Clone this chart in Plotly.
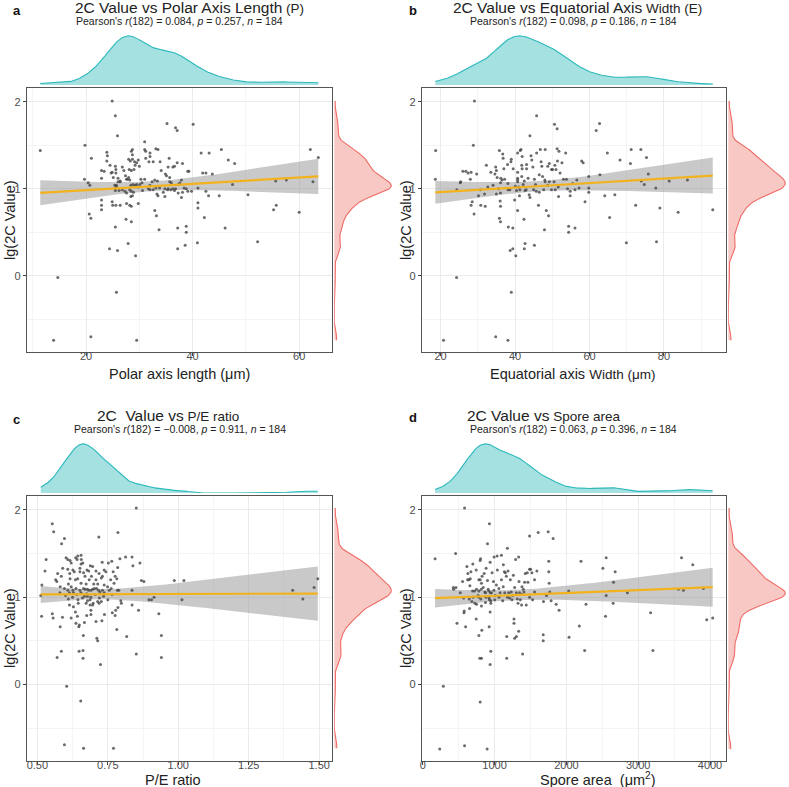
import numpy as np
import plotly.graph_objects as go

W, H = 789, 787
FONT = "Liberation Sans, Arial, sans-serif"

# ---------------- data ----------------
polar_pts = [
    (11.4,1.44),(14.7,-0.02),(13.9,-0.74),(20.9,-0.70),(29.5,-0.74),(25.7,-0.19),(24.9,2.01),(25.5,1.84),
    (25.9,1.61),(35.2,1.75),(36.8,1.70),(37.1,1.67),(40.1,1.74),(19.8,1.50),(21.0,1.35),(19.7,1.11),
    (20.4,1.07),(20.7,1.04),(20.6,0.71),(20.9,0.66),(24.4,0.31),(25.9,0.29),(27.9,0.37),(29.3,0.23),
    (25.5,0.56),(27.5,0.65),(28.5,0.62),(33.7,0.53),(32.9,0.75),(33.2,0.69),(37.2,0.55),(38.8,0.57),
    (38.8,0.50),(37.2,0.31),(38.6,0.35),(40.9,0.38),(41.0,0.78),(41.0,0.84),(42.2,0.67),(46.1,0.55),
    (52.2,0.39),(50.4,0.93),(45.0,0.92),(43.0,0.92),(42.5,0.97),(41.6,1.41),(43.1,1.41),(43.7,1.17),
    (45.4,1.45),(46.7,1.33),(47.9,1.29),(47.5,1.05),(55.2,0.76),(55.7,0.81),(55.6,1.09),(57.6,1.10),
    (60.0,0.73),(62.1,1.45),(63.6,1.36),(62.6,1.08),(41.9,1.18),(42.5,1.18),(41.0,1.01),
    (22.9,1.21),(23.4,1.20),(22.9,1.12),(23.9,1.42),(24.0,1.38),(23.9,1.32),(24.5,1.27),(24.9,1.19),
    (24.7,1.18),(25.1,1.13),(25.5,1.26),(25.6,1.22),(25.6,1.18),(26.0,1.12),(26.4,1.08),(25.4,1.04),
    (25.5,1.00),(25.5,0.98),(25.7,1.04),(26.0,1.08),(26.4,1.09),(26.8,1.25),(27.1,1.21),(27.4,1.15),
    (27.6,1.11),(27.8,1.11),(28.0,1.13),(28.2,1.10),(28.4,1.04),(28.0,1.34),(28.3,1.32),(28.5,1.43),
    (28.7,1.45),(28.7,1.39),(28.7,1.34),(29.1,1.31),(29.2,1.27),(29.5,1.30),(29.8,1.33),(30.0,1.26),
    (28.1,1.22),(28.5,1.21),(29.0,1.22),(28.2,0.99),(28.5,0.97),(28.9,0.96),(28.7,0.92),(28.4,0.91),
    (27.6,0.95),(27.3,0.97),(26.8,0.99),(26.2,0.98),(25.7,1.02),(22.9,0.87),(22.9,0.81),(22.9,0.76),
    (24.9,0.85),(25.0,0.81),(25.6,0.81),(26.4,0.81),(27.6,0.83),(28.2,0.81),(28.5,0.80),(29.8,0.83),
    (28.8,1.05),(29.2,1.04),(29.5,1.05),(29.8,1.02),(31.0,1.54),(31.0,1.45),(31.2,1.43),(32.0,1.41),
    (32.0,1.37),(31.2,1.35),(31.8,1.31),(32.6,1.31),(33.1,1.46),(33.5,1.45),(33.9,1.31),(34.1,1.21),
    (34.9,1.17),(35.1,1.15),(35.7,1.13),(35.4,1.25),(35.6,1.35),(36.3,1.25),(36.6,1.26),(37.1,1.30),
    (38.1,1.29),(39.1,1.20),(39.3,1.20),(37.9,1.10),(37.6,1.07),(37.3,1.05),(36.8,1.00),(36.3,1.00),
    (36.0,1.07),(35.7,1.08),(35.4,1.00),(34.8,1.00),(34.5,0.96),(33.8,1.01),(33.4,1.09),(32.9,1.10),
    (32.4,1.08),(32.0,1.04),(31.7,1.00),(30.6,0.98),(30.5,1.07),(30.3,1.11),(31.0,1.11),(32.0,0.99),
    (32.6,0.99),(33.1,1.01),(33.3,0.94),(33.5,0.92),(34.8,0.91),(35.3,0.99),(35.9,0.99),(36.6,0.98),
    (37.3,0.95),(37.9,0.90),(38.1,0.96),(38.8,1.00),(39.1,0.97),(39.8,0.97),(38.4,1.01),(30.1,1.05),
]

equatorial_pts = [
    (18.7,1.44),(18.6,1.11),(24.3,-0.02),(20.8,-0.74),(34.8,-0.70),(38.1,-0.74),(39.0,-0.19),(29.1,2.01),
    (28.8,1.50),(45.8,1.84),(50.6,1.74),(51.3,1.69),(61.8,1.67),(62.7,1.75),(44.0,1.61),(26.0,1.20),
    (25.4,1.08),(25.3,1.07),(28.0,1.11),(28.2,1.19),(29.7,1.17),(28.2,0.81),(28.5,0.85),(29.0,0.71),
    (30.8,0.81),(32.0,0.80),(24.4,0.99),(30.7,0.99),(35.8,0.66),(36.1,0.62),(38.2,0.56),(39.4,0.55),
    (38.7,0.29),(39.4,0.31),(40.2,0.23),(42.5,0.31),(42.7,0.37),(45.2,0.35),(42.4,0.65),(40.7,0.75),
    (47.9,0.53),(48.4,0.75),(49.0,0.69),(54.4,0.57),(54.4,0.50),(56.1,0.55),(58.8,0.85),(64.1,0.92),
    (65.4,0.67),(66.8,0.93),(59.8,1.14),(59.8,1.01),(59.8,0.96),(62.8,1.16),(64.8,1.41),(68.2,1.33),
    (71.2,1.45),(71.0,1.29),(73.8,1.45),(75.3,1.36),(73.9,1.09),(74.7,1.05),(75.8,1.17),(77.8,1.01),
    (72.4,0.81),(69.9,0.38),(78.0,0.39),(78.9,0.78),(81.4,1.09),(83.8,0.73),(86.3,1.10),(93.1,0.76),
    (53.8,1.11),(53.6,1.41),(57.9,1.32),(58.3,1.30),(51.3,1.46),(51.8,1.43),(48.1,1.45),(46.5,1.16),
    (26.8,1.20),(27.4,1.18),(32.3,1.27),(33.5,1.19),(34.6,1.17),(35.0,1.21),(35.8,1.44),(36.7,1.40),
    (36.8,1.35),(37.0,1.23),(38.0,1.28),(39.0,1.34),(38.9,1.31),(36.2,1.12),(36.1,1.07),(35.2,1.13),
    (36.1,0.95),(36.0,0.86),(36.1,0.80),(35.0,0.94),(38.1,1.06),(39.9,0.87),(40.7,1.41),(41.4,1.44),
    (41.6,1.45),(41.9,1.37),(40.7,1.19),(40.7,1.12),(40.7,1.10),(40.7,1.08),(41.0,1.02),(41.3,0.99),
    (41.2,0.92),(40.1,1.03),(40.4,0.98),(41.8,1.27),(41.9,1.23),(41.8,1.14),(42.5,1.09),(42.2,1.05),
    (43.0,0.99),(42.7,0.98),(43.1,1.23),(43.1,1.28),(43.5,1.12),(43.8,0.93),(44.0,0.90),(44.3,1.38),
    (44.5,1.33),(44.8,1.25),(45.2,1.11),(45.5,1.05),(45.0,0.99),(45.7,0.97),(45.8,1.41),(46.8,1.45),
    (47.0,1.31),(47.2,1.26),(47.4,1.14),(48.0,1.10),(46.3,0.81),(46.5,0.96),(47.7,0.99),(48.8,1.26),
    (49.2,1.29),(49.8,1.22),(50.1,1.22),(50.7,1.27),(51.0,1.22),(51.4,1.32),(50.5,1.08),(50.8,0.99),
    (51.6,1.02),(51.7,0.91),(49.2,1.08),(48.8,1.04),(52.6,1.30),(53.0,1.11),(54.1,1.00),(54.8,0.97),
    (54.8,0.92),(55.5,1.06),(56.1,0.99),(57.2,1.01),(56.6,1.10),(52.1,1.18),(49.8,0.99),(48.1,1.08),
    (38.1,0.99),(38.6,0.99),(37.2,1.11),(39.5,1.23),(31.8,0.94),(32.7,1.02),(34.1,1.04),(35.6,1.00),
    (36.5,1.10),(30.2,0.92),(34.8,1.25),
]

pe_ratio_pts = [
    (0.851,2.02),(0.553,1.84),(0.558,1.75),(0.596,1.67),(0.586,1.61),(0.531,1.43),(0.527,1.30),(0.516,1.14),
    (0.512,1.02),(0.515,0.78),(0.553,0.81),(0.556,0.76),(0.570,0.31),(0.585,0.38),(0.581,0.66),(0.589,0.77),
    (0.604,-0.02),(0.654,-0.19),(0.596,-0.69),(0.664,-0.73),(0.770,-0.73),(0.648,0.38),(0.662,0.39),(0.662,0.30),
    (0.724,0.23),(0.711,0.53),(0.714,0.50),(0.663,0.56),(0.782,0.63),(0.817,0.55),(0.851,0.35),(0.940,0.56),
    (0.940,0.31),(0.931,0.81),(0.859,0.85),(0.718,1.69),(0.786,1.74),(0.793,1.44),(0.813,1.46),(0.836,1.46),
    (0.839,1.36),(0.864,1.39),(0.869,1.19),(0.878,1.18),(0.836,1.08),(0.836,0.91),(0.896,0.97),(0.905,0.97),
    (0.914,1.00),(0.986,1.19),(1.020,1.19),(1.013,0.97),(1.406,1.08),(1.442,0.98),(1.482,1.11),(1.495,1.21),
    (0.602,1.45),(0.608,1.43),(0.616,1.42),(0.636,1.45),(0.641,1.43),(0.643,1.47),(0.655,1.48),(0.656,1.43),
    (0.661,1.39),(0.620,1.39),(0.631,1.29),(0.626,1.31),(0.608,1.32),(0.590,1.33),(0.585,1.24),(0.572,1.27),
    (0.565,1.20),(0.569,1.18),(0.581,1.12),(0.596,1.10),(0.608,1.08),(0.614,1.05),(0.626,1.08),(0.628,1.05),
    (0.637,1.10),(0.644,0.97),(0.651,1.08),(0.655,1.05),(0.664,1.10),(0.670,1.09),(0.667,1.01),(0.673,0.93),
    (0.678,1.01),(0.682,1.08),(0.690,1.08),(0.696,1.09),(0.702,1.10),(0.710,1.10),(0.717,1.08),(0.722,1.06),
    (0.731,1.08),(0.737,1.05),(0.727,0.95),(0.719,0.93),(0.714,0.95),(0.696,0.91),(0.687,0.97),(0.678,0.96),
    (0.676,1.31),(0.682,1.30),(0.688,1.36),(0.696,1.35),(0.708,1.30),(0.719,1.27),(0.731,1.24),(0.737,1.31),
    (0.743,1.29),(0.752,1.39),(0.764,1.41),(0.769,1.29),(0.776,1.24),(0.782,1.21),(0.784,1.08),(0.786,0.88),
    (0.778,0.85),(0.776,0.79),(0.766,0.82),(0.738,0.80),(0.729,0.73),(0.708,0.72),(0.690,0.85),(0.687,0.91),
    (0.675,0.79),(0.667,0.71),(0.649,0.68),(0.647,0.66),(0.637,0.70),(0.620,0.76),(0.614,0.91),(0.628,0.89),
    (0.635,0.83),(0.642,0.78),(0.698,0.93),(0.678,1.09),(0.673,1.15),(0.655,1.16),(0.669,1.24),(0.664,1.28),
    (0.651,1.29),(0.643,1.21),(0.635,1.20),(0.616,1.21),(0.610,1.15),(0.620,1.12),(0.651,1.33),(0.684,1.20),
    (0.692,1.24),(0.708,1.20),(0.714,1.15),(0.727,1.22),(0.737,1.14),(0.749,1.12),(0.755,1.08),(0.762,1.10),
    (0.772,1.16),(0.785,1.34),(0.789,1.08),(0.796,0.96),(0.798,0.93),(0.610,0.98),(0.625,1.00),(0.640,1.03),
    (0.660,0.99),(0.675,1.04),(0.690,1.00),(0.705,1.03),(0.720,0.99),(0.735,1.01),(0.750,0.97),(0.765,1.03),
    (0.600,1.02),(0.645,0.93),(0.700,1.15),(0.760,1.20),(0.615,1.27),(0.655,1.38),(0.730,1.40),(0.580,1.05),
    (0.690,0.80),
]

area_pts = [
    (582,2.02),(928,1.84),(901,1.61),(171,1.44),(457,1.50),(1487,1.70),(1607,1.74),(1746,1.75),
    (1815,1.67),(286,-0.02),(236,-0.74),(582,-0.70),(896,-0.74),(799,-0.20),(794,0.30),(817,0.30),
    (938,0.23),(947,0.38),(1169,0.30),(1390,0.35),(1303,0.55),(1335,0.61),(1169,0.55),(1279,0.53),
    (781,0.56),(822,0.62),(924,0.66),(596,0.66),(476,0.70),(744,0.75),(1270,0.75),(1270,0.70),
    (1677,0.57),(1677,0.50),(1898,0.85),(2037,0.54),(2180,0.67),(2254,0.39),(2203,1.41),(2273,0.92),
    (2545,0.78),(2508,1.33),(2554,1.45),(2554,1.02),(2656,1.17),(2679,1.29),(2651,0.93),(2850,1.05),
    (3173,0.82),(3205,0.39),(3603,1.45),(3760,1.37),(3561,1.09),(3630,1.08),(3908,1.10),(3954,0.74),
    (4037,0.76),(2032,1.07),(1755,1.41),(1755,1.29),(1760,1.16),(1769,1.06),(1787,0.96),(1681,0.95),
    (1857,0.92),(1723,1.02),(1557,1.20),(1520,1.28),(1487,1.32),
    (425,1.11),(430,1.09),(462,1.11),(522,1.05),(554,1.18),(577,0.84),(573,0.82),(614,1.35),
    (628,1.27),(642,1.20),(661,1.21),(647,0.98),(651,0.87),(697,1.38),(721,1.07),(744,1.31),
    (771,1.02),(804,1.44),(813,1.09),(799,1.20),(817,1.16),(826,1.24),(841,1.11),(855,1.27),
    (864,1.06),(873,0.94),(882,1.33),(901,1.19),(910,1.09),(919,1.07),(924,0.99),(928,0.97),
    (938,1.40),(938,0.83),(947,0.93),(947,0.96),(956,1.05),(965,1.28),(993,1.46),(1002,0.97),
    (1035,1.47),(1039,1.31),(1062,1.00),(1076,1.05),(1095,1.48),(1095,1.20),(1113,0.96),(1122,1.37),
    (1136,1.29),(1150,1.28),(1164,1.24),(1178,1.56),(1187,1.30),(1196,1.05),(1219,1.20),(1233,1.06),
    (1242,0.97),(1261,1.25),(1279,1.11),(1293,1.43),(1303,1.05),(1316,0.98),(1326,0.93),(1335,1.46),
    (1340,1.18),(1349,1.05),(1358,0.97),(1376,0.91),(1381,1.12),(1400,1.09),(1409,1.06),(1418,1.17),
    (1427,1.27),(1441,0.91),(1455,1.28),(1464,1.17),(1487,1.00),(1501,1.32),(1529,0.97),(1557,1.06),
    (1589,1.30),(748,0.92),(781,1.00),(808,0.98),(984,1.18),(1025,1.14),(1141,1.05),(693,1.07),
    (817,0.90),(942,1.05),(781,1.07),(873,1.05),(568,0.99),(656,1.13),(748,1.09),(670,1.29),
    (624,1.20),(684,0.95),(781,1.20),(799,1.42),(725,0.93),(1010,1.02),(1060,1.10),(1120,1.12),
    (1180,1.00),(1250,1.02),(880,1.00),(990,1.08),(1210,0.99),(1380,1.03),(700,1.00),
]

titles_main = ["2C Value vs Polar Axis Length", "2C Value vs Equatorial Axis", "2C  Value vs", "2C Value vs"]
titles_tail = [" (P)", " Width (E)", " P/E ratio", " Spore area"]
pearson_r = ["0.084", "0.098", "\u22120.008", "0.063"]
pearson_p = ["0.257", "0.186", "0.911", "0.396"]
n_obs = 184
x_titles = ["Polar axis length (\u03bcm)",
            "Equatorial axis <span style='font-size:13.5px'>Width (\u03bcm)</span>",
            "P/E ratio",
            "Spore area  (\u03bcm<sup>2</sup>)"]
panel_labels = ["a", "b", "c", "d"]
x_ranges = [[8.9, 66.2], [15.0, 96.7], [0.463, 1.546], [-12, 4225]]
x_dticks = [20, 20, 0.25, 1000]
x_minor = [10, 10, 0.125, 500]
x_formats = ["d", "d", ".2f", "d"]
y_range = [-0.876, 2.158]

# ---------------- helpers ----------------
def fx(px):
    return px / W

def fy(py):
    return 1 - py / H

def kde(v):
    v = np.asarray(v, float)
    n = len(v)
    sd = v.std(ddof=1)
    q75, q25 = np.percentile(v, [75, 25])
    bw = 0.9 * min(sd, (q75 - q25) / 1.34) * n ** -0.2
    g = np.linspace(v.min(), v.max(), 400)
    d = np.exp(-0.5 * ((g[:, None] - v[None, :]) / bw) ** 2).sum(1) / (n * bw * np.sqrt(2 * np.pi))
    return g, d

def lm_band(x, y):
    x = np.asarray(x, float); y = np.asarray(y, float)
    n = len(x)
    b, a = np.polyfit(x, y, 1)
    g = np.linspace(x.min(), x.max(), 80)
    fit = a + b * g
    res = y - (a + b * x)
    s = np.sqrt((res ** 2).sum() / (n - 2))
    se = s * np.sqrt(1 / n + (g - x.mean()) ** 2 / ((x - x.mean()) ** 2).sum())
    t = 1.973
    return g, fit, fit - t * se, fit + t * se

# pixel boxes of the main panels: (left, right, top, bottom)
boxes = [(25, 331, 88, 352), (421, 726, 88, 352), (25, 331, 496, 761), (421, 726, 496, 761)]
all_pts = [polar_pts, equatorial_pts, pe_ratio_pts, area_pts]

fig = go.Figure()
layout = dict(
    width=W, height=H, margin=dict(l=0, r=0, t=0, b=0),
    paper_bgcolor="white", plot_bgcolor="rgba(0,0,0,0)",
    showlegend=False, font=dict(family=FONT, color="#222"),
)
annotations = []
TICKFONT = dict(size=11, color="#4d4d4d", family=FONT)

for i in range(4):
    L, R, T, B = boxes[i]
    xs = [p[0] for p in all_pts[i]]
    ys = [p[1] for p in all_pts[i]]
    k = 4 * i
    xm, ym = f"x{k+1}", f"y{k+1}"
    xt, yt = f"x{k+2}", f"y{k+2}"
    xr, yr = f"x{k+3}", f"y{k+3}"
    xl = f"x{k+4}"
    kx = lambda j: "xaxis" if j == 1 else f"xaxis{j}"
    ky = lambda j: "yaxis" if j == 1 else f"yaxis{j}"

    # main axes (tick marks and grid; x labels are drawn by a companion axis just below)
    layout[kx(k+1)] = dict(
        domain=[fx(L), fx(R)], range=x_ranges[i], anchor=ym,
        tickmode="linear", dtick=x_dticks[i], tick0=0, showticklabels=False,
        showgrid=True, gridcolor="#ebebeb", gridwidth=1, zeroline=False,
        showline=True, linecolor="#555555", linewidth=1.3, mirror=True,
        ticks="outside", ticklen=3, tickcolor="#444", tickwidth=1,
        minor=dict(dtick=x_minor[i], tick0=0, showgrid=True, gridcolor="#f4f4f4", gridwidth=0.7, ticklen=0),
    )
    layout[kx(k+4)] = dict(
        domain=[fx(L), fx(R)], range=x_ranges[i], anchor="free", overlaying=xm,
        position=fy(B - 4), side="bottom",
        tickmode="linear", dtick=x_dticks[i], tick0=0, tickformat=x_formats[i],
        showgrid=False, zeroline=False, showline=False, ticks="",
        tickfont=TICKFONT,
    )
    layout[ky(k+1)] = dict(
        domain=[fy(B), fy(T)], range=y_range, anchor=xm,
        tickmode="linear", dtick=1, tick0=0,
        showgrid=True, gridcolor="#ebebeb", gridwidth=1, zeroline=False,
        showline=True, linecolor="#555555", linewidth=1.3, mirror=True,
        ticks="outside", ticklen=3, tickcolor="#444", tickwidth=1,
        tickfont=TICKFONT,
        minor=dict(dtick=0.5, tick0=0, showgrid=True, gridcolor="#f4f4f4", gridwidth=0.7, ticklen=0),
    )

    # top marginal density
    gx, dx = kde(xs)
    layout[kx(k+2)] = dict(domain=[fx(L), fx(R)], range=x_ranges[i], anchor=yt, visible=False)
    layout[ky(k+2)] = dict(domain=[fy(T - 3), fy(T - 58)], range=[0, dx.max() * 1.12], anchor=xt, visible=False)
    fig.add_trace(go.Scatter(x=gx, y=dx, xaxis=xt, yaxis=yt, mode="lines", fill="tozeroy",
                             fillcolor="#a6e1e2", line=dict(color="#2cb8bb", width=1.1), hoverinfo="skip"))

    # right marginal density
    gy, dy = kde(ys)
    layout[kx(k+3)] = dict(domain=[fx(R + 2), fx(R + 61)], range=[0, dy.max() * 1.03], anchor=yr, visible=False)
    layout[ky(k+3)] = dict(domain=[fy(B), fy(T)], range=y_range, anchor=xr, visible=False)
    fig.add_trace(go.Scatter(x=dy, y=gy, xaxis=xr, yaxis=yr, mode="lines", fill="tozerox",
                             fillcolor="#f8c8c5", line=dict(color="#ee6b65", width=1.1), hoverinfo="skip"))

    # regression band, points, line
    g, fit, lo, hi = lm_band(xs, ys)
    fig.add_trace(go.Scatter(x=np.concatenate([g, g[::-1]]), y=np.concatenate([lo, hi[::-1]]),
                             xaxis=xm, yaxis=ym, mode="lines", fill="toself",
                             fillcolor="rgba(150,148,148,0.5)", line=dict(width=0), hoverinfo="skip"))
    fig.add_trace(go.Scatter(x=xs, y=ys, xaxis=xm, yaxis=ym, mode="markers",
                             marker=dict(size=3.0, color="rgba(70,70,70,0.8)", line=dict(width=0))))
    fig.add_trace(go.Scatter(x=g, y=fit, xaxis=xm, yaxis=ym, mode="lines",
                             line=dict(color="#f2b21c", width=2.2), hoverinfo="skip"))
    # invisible companion trace so the tick-label axis is rendered
    fig.add_trace(go.Scatter(x=xs, y=ys, xaxis=xl, yaxis=ym, mode="markers",
                             marker=dict(size=1, opacity=0), hoverinfo="skip"))

# text placement (pixels)
title_pos = [(188, 8), (577, 8), (166, 415), (543, 415)]
sub_pos = [(178, 21), (573, 21), (178, 429), (573, 429)]
label_pos = [(15, 10), (412, 10), (15, 419), (412, 417)]
xt_pos = [(178, 374), (572, 374), (171, 780), (598, 779)]
yt_pos = [(8, 220), (405, 220), (8, 628), (405, 628)]

for i in range(4):
    annotations.append(dict(
        x=fx(title_pos[i][0]), y=fy(title_pos[i][1]), xref="paper", yref="paper",
        text=f"{titles_main[i]}<span style='font-size:13.5px'>{titles_tail[i]}</span>",
        showarrow=False, xanchor="center", yanchor="middle", font=dict(size=15.5, color="#222", family=FONT)))
    annotations.append(dict(
        x=fx(sub_pos[i][0]), y=fy(sub_pos[i][1]), xref="paper", yref="paper",
        text=f"Pearson's <i>r</i>(182) = {pearson_r[i]}, <i>p</i> = {pearson_p[i]}, <i>n</i> = {n_obs}",
        showarrow=False, xanchor="center", yanchor="middle", font=dict(size=10.5, color="#222", family=FONT)))
    annotations.append(dict(
        x=fx(label_pos[i][0]), y=fy(label_pos[i][1]), xref="paper", yref="paper",
        text=f"<b>{panel_labels[i]}</b>", showarrow=False, xanchor="center", yanchor="middle",
        font=dict(size=13, color="#111", family=FONT)))
    annotations.append(dict(
        x=fx(xt_pos[i][0]), y=fy(xt_pos[i][1]), xref="paper", yref="paper",
        text=x_titles[i], showarrow=False, xanchor="center", yanchor="middle",
        font=dict(size=14.5, color="#222", family=FONT)))
    annotations.append(dict(
        x=fx(yt_pos[i][0]), y=fy(yt_pos[i][1]), xref="paper", yref="paper",
        text="lg(2C Value)", textangle=-90, showarrow=False, xanchor="center", yanchor="middle",
        font=dict(size=14.5, color="#222", family=FONT)))

layout["annotations"] = annotations
fig.update_layout(**layout)
fig.write_html("out.html", config={"displayModeBar": False},
               post_script="document.body.style.margin='0';document.body.style.overflow='hidden';")
